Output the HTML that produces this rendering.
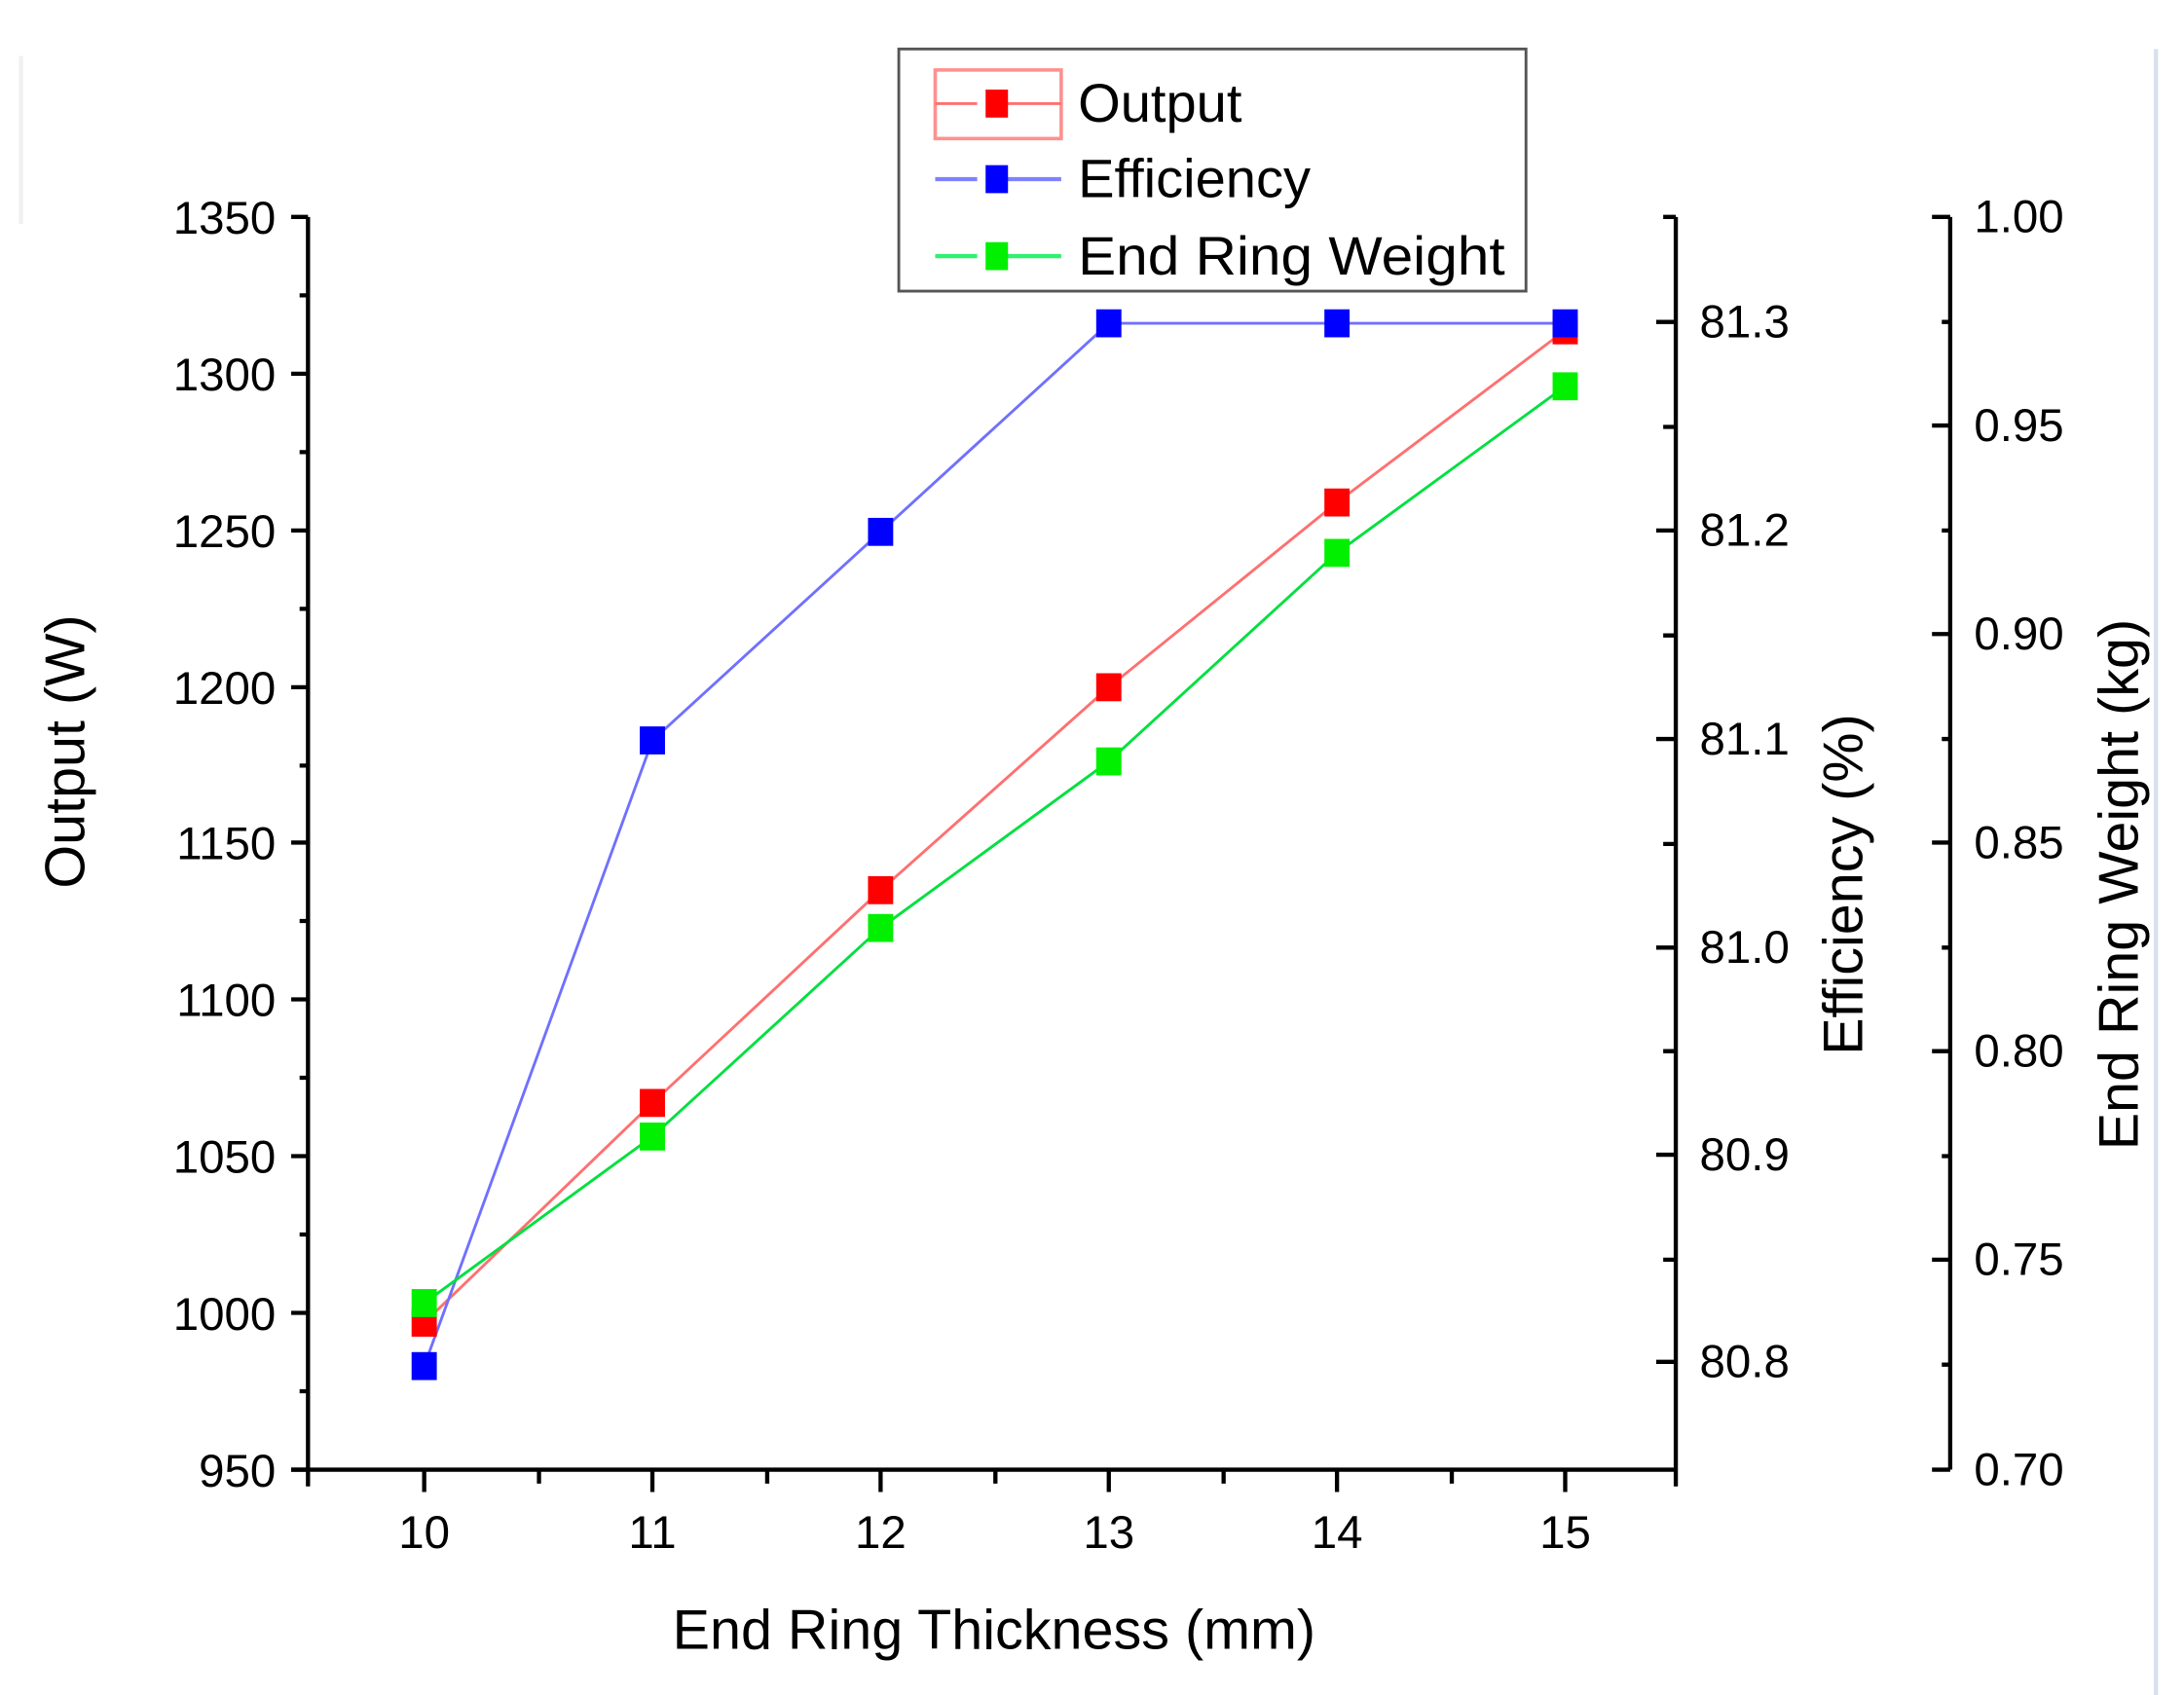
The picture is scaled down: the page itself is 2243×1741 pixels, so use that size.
<!DOCTYPE html>
<html><head><meta charset="utf-8"><style>html,body{margin:0;padding:0;background:#fff}svg{display:block}</style></head>
<body>
<svg width="2243" height="1741" viewBox="0 0 1560 1211" preserveAspectRatio="none" xmlns="http://www.w3.org/2000/svg" font-family="Liberation Sans, sans-serif">
<rect width="1560" height="1211" fill="#fff"/>
<line x1="1540" y1="35" x2="1540" y2="1211" stroke="#d8e0ea" stroke-width="3"/>
<line x1="15" y1="40" x2="15" y2="160" stroke="#f0f0f0" stroke-width="3"/>
<g stroke="#000" stroke-width="3" fill="none">
<line x1="220" y1="155" x2="220" y2="1050"/>
<line x1="208" y1="1050" x2="1197" y2="1050"/>
<line x1="1197" y1="155" x2="1197" y2="1050"/>
<line x1="1393" y1="155" x2="1393" y2="1050"/>
<path d="M208 155H220M214 211H220M208 267H220M214 323H220M208 379H220M214 435H220M208 491H220M214 547H220M208 602H220M214 658H220M208 714H220M214 770H220M208 826H220M214 882H220M208 938H220M214 994H220M208 1050H220"/>
<path d="M220 1050V1062M303 1050V1066M385 1050V1060M466 1050V1066M548 1050V1060M629 1050V1066M711 1050V1060M792 1050V1066M874 1050V1060M955 1050V1066M1037 1050V1060M1118 1050V1066M1197 1050V1062"/>
<path d="M1188 155H1197M1183 230H1197M1188 305H1197M1183 379H1197M1188 454H1197M1183 528H1197M1188 603H1197M1183 677H1197M1188 751H1197M1183 825H1197M1188 900H1197M1183 973H1197"/>
<path d="M1380 155H1393M1387 230H1393M1380 304H1393M1387 379H1393M1380 453H1393M1387 528H1393M1380 602H1393M1387 677H1393M1380 751H1393M1387 826H1393M1380 900H1393M1387 975H1393M1380 1050H1393"/>
</g>
<g font-size="33" fill="#000" text-anchor="end">
<text x="197" y="167">1350</text><text x="197" y="279">1300</text><text x="197" y="391">1250</text><text x="197" y="503">1200</text><text x="197" y="614">1150</text><text x="197" y="726">1100</text><text x="197" y="838">1050</text><text x="197" y="950">1000</text><text x="197" y="1062">950</text>
</g>
<g font-size="33" fill="#000" text-anchor="middle">
<text x="303" y="1106">10</text><text x="466" y="1106">11</text><text x="629" y="1106">12</text><text x="792" y="1106">13</text><text x="955" y="1106">14</text><text x="1118" y="1106">15</text>
</g>
<g font-size="33" fill="#000">
<text x="1214" y="241">81.3</text><text x="1214" y="390">81.2</text><text x="1214" y="539">81.1</text><text x="1214" y="688">81.0</text><text x="1214" y="836">80.9</text><text x="1214" y="984">80.8</text>
<text x="1410" y="166">1.00</text><text x="1410" y="315">0.95</text><text x="1410" y="464">0.90</text><text x="1410" y="613">0.85</text><text x="1410" y="762">0.80</text><text x="1410" y="911">0.75</text><text x="1410" y="1061">0.70</text>
</g>
<text x="710" y="1178" font-size="40" text-anchor="middle">End Ring Thickness (mm)</text>
<text transform="translate(60,537) rotate(-90)" font-size="40" text-anchor="middle">Output (W)</text>
<text transform="translate(1330,632) rotate(-90)" font-size="40" text-anchor="middle">Efficiency (%)</text>
<text transform="translate(1527,632) rotate(-90)" font-size="40" text-anchor="middle">End Ring Weight (kg)</text>
<polyline points="303,945 466,788 629,636 792,491 955,359 1118,236" fill="none" stroke="#ff7070" stroke-width="2"/>
<polyline points="303,976 466,529 629,380 792,231 955,231 1118,231" fill="none" stroke="#7070ff" stroke-width="2"/>
<polyline points="303,931 466,812 629,663 792,544 955,395 1118,276" fill="none" stroke="#00e040" stroke-width="2"/>
<g fill="#f00"><rect x="294" y="935" width="18" height="20"/><rect x="457" y="778" width="18" height="20"/><rect x="620" y="626" width="18" height="20"/><rect x="783" y="481" width="18" height="20"/><rect x="946" y="349" width="18" height="20"/><rect x="1109" y="226" width="18" height="20"/></g>
<g fill="#00f"><rect x="294" y="966" width="18" height="20"/><rect x="457" y="519" width="18" height="20"/><rect x="620" y="370" width="18" height="20"/><rect x="783" y="221" width="18" height="20"/><rect x="946" y="221" width="18" height="20"/><rect x="1109" y="221" width="18" height="20"/></g>
<g fill="#00f000"><rect x="294" y="921" width="18" height="20"/><rect x="457" y="802" width="18" height="20"/><rect x="620" y="653" width="18" height="20"/><rect x="783" y="534" width="18" height="20"/><rect x="946" y="385" width="18" height="20"/><rect x="1109" y="266" width="18" height="20"/></g>
<rect x="642" y="35" width="448" height="173" fill="#fff" stroke="#555" stroke-width="2"/>
<rect x="668" y="50" width="90" height="49" fill="none" stroke="#ff9090" stroke-width="2.5"/>
<path d="M668 74H698M716 74H758" stroke="#ff7070" stroke-width="2"/>
<rect x="704" y="64" width="16" height="20" fill="#f00"/>
<path d="M668 128H698M716 128H758" stroke="#8080ff" stroke-width="3"/>
<rect x="704" y="118" width="16" height="20" fill="#00f"/>
<path d="M668 183H698M716 183H758" stroke="#30f070" stroke-width="3"/>
<rect x="704" y="173" width="16" height="20" fill="#00f000"/>
<g font-size="39" fill="#000"><text x="770" y="87">Output</text><text x="770" y="141">Efficiency</text><text x="770" y="196" textLength="305" lengthAdjust="spacingAndGlyphs">End Ring Weight</text></g>
</svg>
</body></html>
